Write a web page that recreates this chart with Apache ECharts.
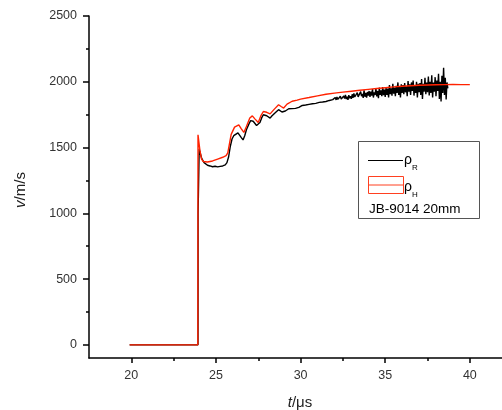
<!DOCTYPE html>
<html><head><meta charset="utf-8">
<script src="https://cdn.jsdelivr.net/npm/echarts@6/dist/echarts.min.js"></script>
<style>html,body{margin:0;padding:0;background:#fff}#c{width:502px;height:410px}</style>
</head><body><div id="c"></div>
<script>
const xMajorTicks = [20, 25, 30, 35, 40];
const xMinorTicks = [22.5, 27.5, 32.5, 37.5];
const yMajorTicks = [0, 500, 1000, 1500, 2000, 2500];
const yMinorTicks = [250, 750, 1250, 1750, 2250];

// rho_R (black) : [t (us), v (m/s)]
const rhoR = [
[19.9,0],[23.94,0],[23.945,1000],[24.0,1000],[24.01,1490],[24.05,1470],[24.15,1420],[24.3,1385],[24.5,1365],[24.65,1360],[24.8,1354],
[24.95,1358],[25.1,1353],[25.25,1357],[25.4,1360],[25.55,1368],[25.65,1385],[25.75,1430],[25.85,1510],[25.95,1565],[26.05,1590],
[26.15,1600],[26.3,1612],[26.4,1598],[26.5,1575],[26.6,1558],[26.7,1590],[26.8,1635],[26.95,1680],[27.05,1705],[27.1,1720],
[27.2,1700],[27.3,1688],[27.4,1668],[27.5,1660],[27.6,1690],[27.7,1725],[27.8,1749],[27.9,1738],[28.0,1742],[28.1,1730],
[28.2,1724],[28.3,1740],[28.4,1752],[28.55,1770],[28.7,1788],[28.8,1778],[28.9,1770],[29.0,1762],[29.1,1778],[29.2,1786],
[29.3,1795],[29.4,1802],[29.5,1796],[29.6,1804],[29.7,1798],[29.8,1810],[29.9,1805],
[30.0,1812],[30.1,1820],[30.2,1810],[30.3,1823],[30.4,1816],[30.5,1828],[30.6,1820],[30.7,1833],[30.8,1826],[30.9,1836],
[31.0,1830],[31.1,1843],[31.2,1834],[31.3,1846],[31.4,1840],[31.5,1850],[31.6,1844],[31.7,1858],[31.8,1852],[31.9,1864],[32.0,1856],
[32.05,1880],[32.1,1862],[32.15,1884],[32.2,1866],[32.25,1876],[32.3,1858],[32.35,1890],[32.4,1868],[32.45,1878],[32.5,1860],
[32.55,1892],[32.6,1872],[32.65,1900],[32.7,1868],[32.75,1886],[32.8,1862],[32.85,1898],[32.9,1874],[32.95,1890],[33.0,1870],
[33.05,1905],[33.1,1878],[33.15,1912],[33.2,1884],[33.25,1896],[33.3,1870],[33.35,1918],[33.4,1885],[33.45,1900],[33.5,1872],
[33.55,1925],[33.6,1890],[33.65,1908],[33.7,1878],[33.75,1935],[33.8,1886],[33.85,1915],[33.9,1880],[33.95,1922],[34.0,1895],
[34.05,1930],[34.1,1885],[34.15,1925],[34.2,1895],[34.25,1945],[34.3,1880],[34.35,1920],[34.4,1900],[34.45,1950],[34.5,1888],
[34.55,1930],[34.6,1875],[34.65,1955],[34.7,1900],[34.75,1935],[34.8,1890],[34.85,1960],[34.9,1898],[34.95,1940],[35.0,1885],
[35.05,1955],[35.1,1900],[35.15,1948],[35.2,1880],[35.25,1975],[35.3,1905],[35.35,1950],[35.4,1895],[35.45,1985],[35.5,1910],
[35.55,1955],[35.6,1890],[35.65,1970],[35.7,1915],[35.75,1995],[35.8,1900],[35.85,1960],[35.9,1880],[35.95,1980],[36.0,1915],
[36.05,1975],[36.1,1905],[36.15,1990],[36.2,1920],[36.25,1965],[36.3,1890],[36.35,2005],[36.4,1925],[36.45,1980],[36.5,1900],
[36.55,1995],[36.6,1930],[36.65,2010],[36.7,1895],[36.75,1975],[36.8,1915],[36.85,2000],[36.9,1880],[36.95,1985],[37.0,1920],
[37.05,1990],[37.1,1900],[37.15,2020],[37.2,1870],[37.25,1985],[37.3,1925],[37.35,2030],[37.4,1905],[37.45,1995],[37.5,1920],
[37.55,2040],[37.6,1895],[37.65,2000],[37.7,1915],[37.75,2050],[37.8,1880],[37.85,1995],[37.9,1925],[37.95,2035],[38.0,1890],
[38.05,2010],[38.1,1930],[38.15,2060],[38.2,1870],[38.25,2000],[38.3,1850],[38.35,2045],[38.4,1915],[38.45,2106],[38.5,1900],
[38.55,2030],[38.6,1865],[38.65,1995],[38.7,1950]
];

// rho_H (red) : [t (us), v (m/s)]
const rhoH = [
[19.9,0],[23.93,0],[23.94,1597],[24.05,1480],[24.15,1412],[24.25,1394],[24.5,1390],[24.8,1398],[25.1,1412],[25.4,1426],
[25.6,1438],[25.7,1460],[25.8,1530],[25.9,1600],[26.1,1655],[26.35,1673],[26.5,1642],[26.65,1615],[26.8,1660],[27.0,1725],
[27.15,1741],[27.3,1718],[27.5,1690],[27.65,1740],[27.8,1774],[28.0,1768],[28.2,1756],[28.45,1792],[28.7,1825],[28.85,1812],
[29.0,1800],[29.2,1830],[29.5,1852],[29.8,1860],[30.0,1868],[30.5,1880],[31.0,1893],[31.5,1905],[32.0,1914],[32.5,1921],
[33.0,1928],[33.5,1935],[34.0,1942],[34.5,1949],[35.0,1955],[35.5,1961],[36.0,1966],[36.5,1970],[37.0,1973],[37.5,1975],
[38.0,1977],[38.5,1978],[39.0,1979],[39.5,1978],[40.0,1978]
];

const chart = echarts.init(document.getElementById('c'), null, {renderer: 'canvas'});
const font = 'Liberation Sans, Arial, sans-serif';
const plain = v => String(v);
chart.setOption({
  animation: false,
  backgroundColor: '#fff',
  grid: {left: 89, right: 0, top: 16, height: 342, containLabel: false},
  xAxis: [
    {type: 'value', min: 17.5, max: 41.9, splitLine: {show: false},
      axisLine: {show: true, onZero: false, lineStyle: {color: '#000', width: 1.5}},
      axisTick: {show: true, length: 5, customValues: xMajorTicks, lineStyle: {color: '#000', width: 1.5}},
      axisLabel: {customValues: xMajorTicks, formatter: plain, margin: 11, color: '#333', fontSize: 12.5, fontFamily: font}},
    {type: 'value', min: 17.5, max: 41.9, position: 'bottom', splitLine: {show: false},
      axisLine: {show: false, onZero: false},
      axisTick: {show: true, length: 3, customValues: xMinorTicks, lineStyle: {color: '#000', width: 1.5}},
      axisLabel: {show: false}}
  ],
  yAxis: [
    {type: 'value', min: -100, max: 2500, splitLine: {show: false},
      axisLine: {show: true, onZero: false, lineStyle: {color: '#000', width: 1.5}},
      axisTick: {show: true, length: 6, customValues: yMajorTicks, lineStyle: {color: '#000', width: 1.5}},
      axisLabel: {customValues: yMajorTicks, formatter: plain, margin: 12, color: '#333', fontSize: 12.5, fontFamily: font}},
    {type: 'value', min: -100, max: 2500, position: 'left', splitLine: {show: false},
      axisLine: {show: false, onZero: false},
      axisTick: {show: true, length: 3, customValues: yMinorTicks, lineStyle: {color: '#000', width: 1.5}},
      axisLabel: {show: false}}
  ],
  series: [
    {type: 'line', name: 'ρR', data: rhoR, showSymbol: false, symbol: 'none',
     lineStyle: {color: '#000', width: 1.4}, z: 2},
    {type: 'line', name: 'ρH', data: rhoH, showSymbol: false, symbol: 'none',
     lineStyle: {color: '#ff2200', width: 1.4}, z: 3}
  ],
  graphic: [
    {type: 'rect', shape: {x: 358.5, y: 141.5, width: 121, height: 77},
     style: {fill: '#fff', stroke: '#555', lineWidth: 1}, z: 10},
    {type: 'line', shape: {x1: 368, y1: 160.5, x2: 403, y2: 160.5},
     style: {stroke: '#000', lineWidth: 1}, z: 11},
    {type: 'text', x: 404, y: 153, style: {text: 'ρ', fontSize: 14, fontFamily: font, fill: '#000'}, z: 11},
    {type: 'text', x: 412, y: 164, style: {text: 'R', fontSize: 8, fontFamily: font, fill: '#000'}, z: 11},
    {type: 'rect', shape: {x: 368.5, y: 176.5, width: 35, height: 17},
     style: {fill: 'none', stroke: '#ff4020', lineWidth: 1}, z: 11},
    {type: 'line', shape: {x1: 368, y1: 185, x2: 403, y2: 185},
     style: {stroke: '#ff4020', lineWidth: 1}, z: 11},
    {type: 'text', x: 404, y: 180, style: {text: 'ρ', fontSize: 14, fontFamily: font, fill: '#000'}, z: 11},
    {type: 'text', x: 412, y: 191, style: {text: 'H', fontSize: 8, fontFamily: font, fill: '#000'}, z: 11},
    {type: 'text', x: 369, y: 202, style: {text: 'JB-9014 20mm', fontSize: 13.5, fontFamily: font, fill: '#000'}, z: 11},
    {type: 'text', x: 300, y: 403, style: {text: '{i|t}/μs', align: 'center', verticalAlign: 'middle',
      fontSize: 15, fontFamily: font, fill: '#222', rich: {i: {fontStyle: 'italic', fontSize: 15, fontFamily: font, fill: '#222'}}}},
    {type: 'text', x: 21, y: 190, rotation: Math.PI / 2, style: {text: '{i|v}/m/s', align: 'center', verticalAlign: 'middle',
      fontSize: 15, fontFamily: font, fill: '#222', rich: {i: {fontStyle: 'italic', fontSize: 15, fontFamily: font, fill: '#222'}}}}
  ]
});
</script>
</body></html>
